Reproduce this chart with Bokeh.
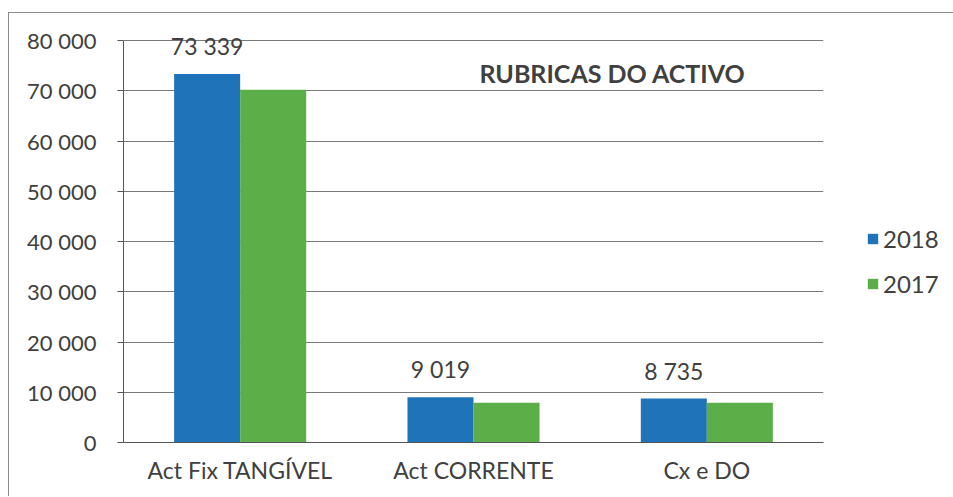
from bokeh.plotting import figure
from bokeh.models import ColumnDataSource, FactorRange, Range1d, FixedTicker, LabelSet, Label, Legend, LegendItem
from bokeh.transform import dodge
from bokeh.core.properties import value
from bokeh.embed import file_html
from bokeh.resources import INLINE

categories = ["Act Fix TANGÍVEL", "Act CORRENTE", "Cx e DO"]
values_2018 = [73339, 9019, 8735]
values_2017 = [70200, 7900, 7900]
series_names = ["2018", "2017"]
y_ticks = [0, 10000, 20000, 30000, 40000, 50000, 60000, 70000, 80000]
y_tick_labels = ["0", "10 000", "20 000", "30 000", "40 000", "50 000", "60 000", "70 000", "80 000"]
title_text = "RUBRICAS DO ACTIVO"

BLUE = "#1f74b9"
GREEN = "#5cae48"
TXT = "#404040"
FONT = "Lato"

src = ColumnDataSource(dict(
    cat=categories,
    v2018=values_2018,
    v2017=values_2017,
    lab2018=[f"{v:,}".replace(",", " ") for v in values_2018],
))

p = figure(x_range=FactorRange(*categories), y_range=Range1d(0, 83000),
           frame_width=700, frame_height=417, output_backend="svg", toolbar_location=None,
           min_border_left=114, min_border_right=126, min_border_top=12, min_border_bottom=54)
p.margin = (12, 0, 0, 8)
p.styles = {"border-top": "1px solid #8a8a8a", "border-left": "1px solid #8a8a8a"}
p.outline_line_color = None
p.background_fill_color = "white"
p.border_fill_color = "white"

w = 0.283
r1 = p.vbar(x=dodge("cat", -w / 2, range=p.x_range), top="v2018", width=w, source=src,
            fill_color=BLUE, line_color=None)
r2 = p.vbar(x=dodge("cat", w / 2, range=p.x_range), top="v2017", width=w, source=src,
            fill_color=GREEN, line_color=None)

labels = LabelSet(x=dodge("cat", -w / 2, range=p.x_range), y="v2018", text="lab2018", source=src,
                  text_align="center", text_baseline="bottom", y_offset=14,
                  text_font=value(FONT), text_font_size="23px", text_color=TXT)
p.add_layout(labels)

p.add_layout(Label(x=489, y=370, x_units="screen", y_units="screen", text=title_text,
                   text_align="center", text_baseline="middle", text_font=FONT,
                   text_font_style="bold", text_font_size="25px", text_color=TXT))

# axes
p.yaxis.ticker = FixedTicker(ticks=y_ticks)
p.yaxis.bounds = (0, 80000)
p.yaxis.major_label_overrides = {t: l for t, l in zip(y_ticks, y_tick_labels)}
p.yaxis.major_label_text_font = FONT
p.yaxis.major_label_text_font_size = "22px"
p.yaxis.major_label_text_color = TXT
p.yaxis.major_label_standoff = 21
p.yaxis.axis_line_color = "#555555"
p.yaxis.major_tick_line_color = "#555555"
p.yaxis.major_tick_out = 6
p.yaxis.major_tick_in = 0
p.yaxis.minor_tick_line_color = None

p.xaxis.major_label_text_font = FONT
p.xaxis.major_label_text_font_size = "23px"
p.xaxis.major_label_text_color = TXT
p.xaxis.major_label_standoff = 7
p.xaxis.axis_line_color = "#555555"
p.xaxis.major_tick_line_color = None
p.xaxis.minor_tick_line_color = None

p.xgrid.grid_line_color = None
p.ygrid.grid_line_color = "#7a7a7a"
p.ygrid.grid_line_width = 1

legend = Legend(items=[LegendItem(label=series_names[0], renderers=[r1]),
                       LegendItem(label=series_names[1], renderers=[r2])],
                location=(43, 144), orientation="vertical")
legend.border_line_color = None
legend.background_fill_alpha = 0
legend.padding = 0
legend.margin = 0
legend.spacing = 16
legend.glyph_width = 13
legend.glyph_height = 13
legend.label_height = 24
legend.label_standoff = 4
legend.label_text_font = FONT
legend.label_text_font_size = "24px"
legend.label_text_color = TXT
p.add_layout(legend, "right")

open("out.html", "w").write(file_html(p, INLINE))
